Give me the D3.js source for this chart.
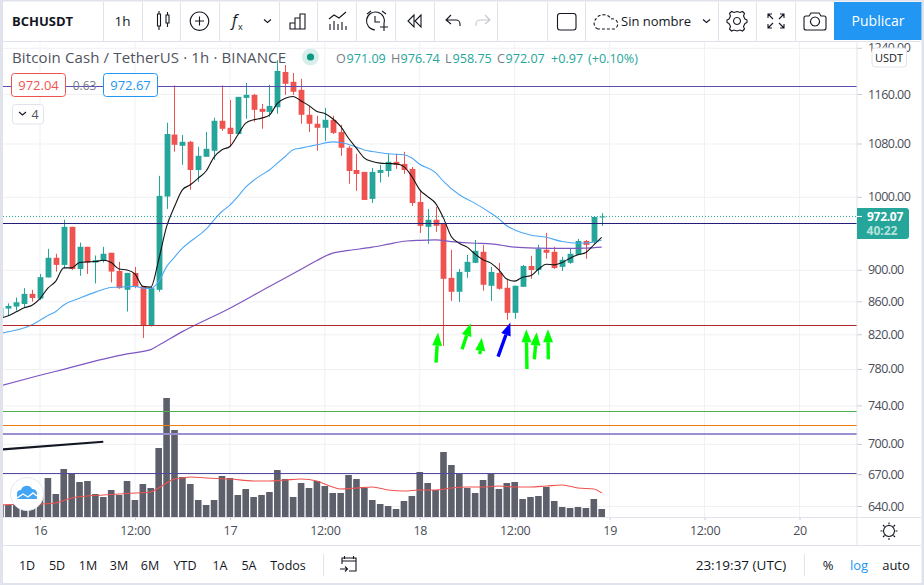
<!DOCTYPE html>
<html lang="es">
<head>
<meta charset="UTF-8">
<title>BCHUSDT 1h</title>
<script src="https://d3js.org/d3.v7.min.js"></script>
<style>
    html, body { margin: 0; padding: 0; background: #fff; overflow: hidden; }
    svg { display: block; font-family: "Open Sans", sans-serif; }
    .grid line { stroke: #f0f1f5; stroke-width: 1; }
    .axis path { display: none; }
    .axis line { stroke: #c9cbd3; }
    .axis text { font-family: "Open Sans", sans-serif; font-size: 12.5px; fill: #4a4d57; letter-spacing: -0.3px; }
    .ico { fill: none; stroke: #131722; stroke-width: 1.1; }
    .sep { stroke: #e0e3eb; stroke-width: 1; }
    .level { shape-rendering: crispEdges; }
    .range text { font-size: 12.5px; fill: #131722; text-anchor: middle; }
</style>
</head>
<body>
<svg id="chart" width="924" height="585"></svg>
<script>
// hours counted from 16th 00:00, one candle per hour
var hours = d3.range(-5, 72);

var open = [
    839.4,851,853.5,856.7,869.3,863.4,890.1,915.8,906.4,957.6,
    901.1,930.4,909.5,911.8,922.4,898.5,874.4,896,879.1,830.9,
    874.4,1000.4,1094,1076.4,1082.6,1039.5,1059.5,1068.7,1116,1104.8,
    1094.9,1153.5,1158.6,1135.4,1130.5,1138,1197.5,1180.6,1167,1125.7,
    1111.2,1104.8,1117.6,1098,1073.4,1039.5,1036.6,997,1035.1,1038,
    1051.8,1048.7,1041.1,992.6,957.6,967.4,961.8,889.6,871.9,897.3,
    909.1,923.7,879.5,896,877,845.8,878.2,905,899.8,926.4,
    923.7,903.8,909.1,919.7,938.3,937,971.09];
var high = [
    852,857.5,864.7,876.5,874.4,894.7,927.7,921.1,967.4,957.6,
    936.1,930.4,918.8,930.4,922.4,910.4,896,903.8,879.1,878.2,
    1030.7,1112.8,1174.4,1093.3,1084.1,1074.9,1098,1120.9,1174.4,1150.1,
    1155.2,1178.9,1160.3,1143.4,1175.5,1218,1209.6,1195.8,1185.7,1140.2,
    1124.1,1137,1124.1,1109.6,1076.4,1064.1,1036.6,1042.6,1047.2,1064.1,
    1064.1,1067.2,1044.1,1010.2,982.7,985.5,961.8,926.4,901.1,919.7,
    939.7,933,903.8,909.1,888.4,879.5,906.4,918.4,933,949.2,
    930.4,917.1,927.7,941,939.7,971.5,976.74];
var low = [
    839.4,842.2,848.6,852.7,859.6,861.7,890.1,897.7,902,899.8,
    892.2,894.7,882.5,909.5,883.7,875.7,847.4,876.5,815.6,829.3,
    871.9,982.7,1067.2,1047.2,1010.2,1021.9,1059.5,1054.9,1099.9,1074.9,
    1094.9,1119.3,1114.4,1103.2,1122.5,1127.3,1158.6,1158.6,1111.2,1098,
    1068.7,1084.1,1094.9,1061,1019,1008.7,995.5,991.1,1020.9,1029.2,
    1041.1,1033.6,986.9,949.2,934.4,950.6,806.4,860.5,859.2,889.6,
    908.7,873.2,860.5,874.4,837.4,838.6,878.2,888.4,893.5,914.4,
    901.1,898.5,907.8,919.7,914.4,934.4,958.75];
var close = [
    851.9,854.3,858.8,869.3,864.2,890.5,915.8,906.4,957.6,901.1,
    930.4,909.5,912.6,921.1,897.7,876.5,896,878.2,830.9,876.5,
    1001.4,1094.9,1078,1082.6,1039.5,1061,1071.8,1116,1103.2,1094.9,
    1155.2,1158.6,1133.8,1130.5,1140.2,1199.2,1177.2,1163.7,1125.7,1111.2,
    1104.8,1117.6,1096.7,1073.4,1038,1033.6,995.5,1036.6,1039.5,1051.8,
    1047.2,1039.5,991.1,959,967.4,959,888.4,871.9,897.3,910.4,
    925,880.8,897.3,875.7,845.8,879.5,905,899.8,927.7,922.4,
    902.4,913.1,921.1,938.3,933,971.5,972.07];
var volume = [
    12,12,12,10,12,21,39,23,48,44,
    35,36,23,20,27,22,36,17,33,29,
    69,119,87,40,33,17,12,17,41,39,
    22,28,20,22,25,47,38,20,34,29,
    36,31,24,24,42,38,29,17,13,11,
    8,16,21,45,34,27,65,52,43,29,
    24,37,43,28,34,35,18,20,21,30,
    16,10,9,10,9,18,8];

// fast moving average, same hours as the candles
var maFast = [
    839.4,842.2,847,851.9,855.1,863.4,876.5,885.4,902.5,902.5,
    909.5,910.4,910.8,912.6,909.5,901.1,899.8,894.7,878.7,877.8,
    913.1,958,986,1010.2,1017.5,1027.3,1038,1059,1070.3,1075.4,
    1093.3,1112.3,1117.6,1120.3,1125.2,1144.5,1153,1155.8,1148.4,1140.7,
    1131.1,1127.9,1119.3,1106.9,1088.2,1072.8,1057.5,1052.3,1049.8,1049.2,
    1048.7,1044.6,1029.7,1010.2,1000.4,990.6,969.7,944.1,935.2,929.9,
    920.6,913.1,908.7,899.8,888,885.4,890.5,892.2,900.7,907.3,
    906.4,909.5,915.3,919.7,922.8,933,943.2];

var maMidHours = [-5,-1,1,2,3,5,7,9,11,12,13,14,15,16,17,18,19,20,21,22,23,24,25,26,27,28,29,30,31,32,33,34,35,37,38,40,41,42,44,46,47,48,50,51,53,55,57,58,59,60,62,64,66,68,70,71];
var maMid = [821.2,831.3,842.6,847.4,855.5,863.8,871.5,877.4,878.2,878.7,876.5,876.1,885,904.2,916.6,928.6,937.5,945.5,954.3,967.4,979,988.2,1000.4,1014.1,1023.9,1032.2,1039.5,1049.8,1060,1070.3,1072.8,1075.4,1078,1082.6,1081.6,1074.4,1069.8,1067.7,1064.1,1062.6,1057.5,1048.2,1035.6,1022.4,1002.9,990.6,976.6,968.7,959,953.4,946.4,943.2,937.5,935.2,936.6,939.7];

var maSlowHours = [-5,0,3,8,11,14,15,18,24,29,33,35,37,39,42,44,46,48,50,52,55,57,60,63,66,69,71];
var maSlow = [761.2,772.9,779.6,791.1,797.2,802,807.1,823.2,851.5,878.7,900.7,912.2,922,925.5,929.9,933.9,937.9,939.2,939.7,937.5,935.2,934.4,929.9,928.6,928.2,928.6,929.9];

var volMaHours = [-5,-1,0,2,4,6,8,10,12,14,15,16,17,18,19,21,24,27,29,31,33,35,37,38,40,42,44,46,48,50,52,54,56,58,60,62,64,66,68,70,71];
var volMa = [12,13,13,14,19,21,22,23,24,25,29,34,38,39,40,39,38,36,36,37,38,36,30,28,29,30,27,26,27,27,29,30,30,31,30,30,31,32,29,28,24];

// levels drawn by hand on the chart
var levelPrices = [1173.4, 962.1, 830.3, 734, 719, 710, 671];
var levelColors = ["#5a4cb0", "#231c78", "#b3282d", "#4caf50", "#ef7c13", "#9a8fd0", "#54479f"];
var levelWidths = [1, 1, 1, 1, 1, 2, 1];
var lastPrice = 972.07;

// arrows: hour and price of tail and head
var arrowTailHours = [50.06, 53.35, 55.6, 57.9, 61.55, 62.48, 64.25];
var arrowTailPrices = [787.2, 802.6, 796.8, 794, 780, 791, 791];
var arrowHeadHours = [50.3, 54.44, 55.83, 59.45, 61.47, 62.78, 64.2];
var arrowHeadPrices = [822, 833.3, 816, 834.1, 826, 822.4, 826];
var arrowColors = ["#00ff00", "#00ff00", "#00ff00", "#0000ff", "#00ff00", "#00ff00", "#00ff00"];

var trendHours = [-5, 8];
var trendPrices = [694.4, 702.2];

var priceTicks = [1240, 1160, 1080, 1000, 900, 860, 820, 780, 740, 700, 670, 640];
var timeTicks = [0, 12, 24, 36, 48, 60, 72, 84, 96];
var timeLabels = ["16", "12:00", "17", "12:00", "18", "12:00", "19", "12:00", "20"];
var rangeLabels = ["1D", "5D", "1M", "3M", "6M", "YTD", "1A", "5A", "Todos"];

var left = 3, right = 857, top_ = 42, bottom = 517;
var green = "#26a69a", red = "#ef5350";

var svg = d3.select("#chart");

var x = d3.scaleLinear().domain([0, 96]).range([40, 799.5]);
var y = d3.scaleLog().domain([640, 1160]).range([506, 94]);
var yVol = d3.scaleLinear().domain([0, 120]).range([517, 397]);

svg.append("rect").attr("width", 924).attr("height", 585).attr("fill", "#fff");

svg.append("defs").append("clipPath").attr("id", "plot")
    .append("rect").attr("x", left).attr("y", top_).attr("width", right - left).attr("height", bottom - top_);

// grid
var grid = svg.append("g").attr("class", "grid").attr("clip-path", "url(#plot)");
grid.selectAll(".h").data(priceTicks).enter().append("line").attr("class", "h")
    .attr("x1", left).attr("x2", right).attr("y1", function(d) { return y(d) + 0.5; }).attr("y2", function(d) { return y(d) + 0.5; });
grid.selectAll(".v").data(timeTicks).enter().append("line").attr("class", "v")
    .attr("y1", top_).attr("y2", bottom).attr("x1", function(d) { return x(d); }).attr("x2", function(d) { return x(d); });

var plot = svg.append("g").attr("clip-path", "url(#plot)");

// volume
plot.selectAll(".vol").data(hours).enter().append("rect").attr("class", "vol")
    .attr("x", function(d) { return x(d) - 3.3; })
    .attr("width", 6.6)
    .attr("y", function(d, i) { return yVol(volume[i]); })
    .attr("height", function(d, i) { return yVol(0) - yVol(volume[i]); })
    .attr("fill", "#5d606b");

var volLine = d3.line()
    .x(function(d) { return x(d); })
    .y(function(d, i) { return yVol(volMa[i]); })
    .curve(d3.curveMonotoneX);
plot.append("path").attr("d", volLine(volMaHours)).attr("fill", "none").attr("stroke", "#ef5350").attr("stroke-width", 1.1);

// candles
plot.selectAll(".wick").data(hours).enter().append("line").attr("class", "wick")
    .attr("x1", function(d) { return Math.round(x(d)) + 0.5; })
    .attr("x2", function(d) { return Math.round(x(d)) + 0.5; })
    .attr("y1", function(d, i) { return y(high[i]); })
    .attr("y2", function(d, i) { return y(low[i]); })
    .attr("stroke", function(d, i) { return close[i] >= open[i] ? green : red; });
plot.selectAll(".body").data(hours).enter().append("rect").attr("class", "body")
    .attr("x", function(d) { return Math.round(x(d)) + 0.5 - 2.9; })
    .attr("width", 5.8)
    .attr("y", function(d, i) { return y(Math.max(open[i], close[i])); })
    .attr("height", function(d, i) { return Math.max(1, Math.abs(y(open[i]) - y(close[i]))); })
    .attr("fill", function(d, i) { return close[i] >= open[i] ? green : red; });

// moving averages
function maPath(xs, ys) {
    return d3.line()
        .x(function(d) { return x(d); })
        .y(function(d, i) { return y(ys[i]); })
        .curve(d3.curveMonotoneX)(xs);
}
plot.append("path").attr("d", maPath(maSlowHours, maSlow)).attr("fill", "none").attr("stroke", "#7e57c2").attr("stroke-width", 1.2);
plot.append("path").attr("d", maPath(maMidHours, maMid)).attr("fill", "none").attr("stroke", "#4fa8f5").attr("stroke-width", 1.1);
plot.append("path").attr("d", maPath(hours, maFast)).attr("fill", "none").attr("stroke", "#131313").attr("stroke-width", 1.1);

// horizontal levels
plot.selectAll(".level").data(levelPrices).enter().append("line").attr("class", "level")
    .attr("x1", left).attr("x2", right)
    .attr("y1", function(d) { return y(d); }).attr("y2", function(d) { return y(d); })
    .attr("stroke", function(d, i) { return levelColors[i]; })
    .attr("stroke-width", function(d, i) { return levelWidths[i]; });
plot.append("line").attr("x1", left).attr("x2", right).attr("y1", y(lastPrice)).attr("y2", y(lastPrice))
    .attr("stroke", green).attr("stroke-dasharray", "1 2");

plot.append("line")
    .attr("x1", x(trendHours[0])).attr("y1", y(trendPrices[0]))
    .attr("x2", x(trendHours[1])).attr("y2", y(trendPrices[1]))
    .attr("stroke", "#131722").attr("stroke-width", 2.2);

// arrows, head polygon worked out along the scaled direction
arrowTailHours.forEach(function(h, i) {
    var x0 = x(h), y0 = y(arrowTailPrices[i]), x1 = x(arrowHeadHours[i]), y1 = y(arrowHeadPrices[i]);
    var len = Math.hypot(x1 - x0, y1 - y0), ux = (x1 - x0) / len, uy = (y1 - y0) / len;
    var bx = x1 - ux * 13, by = y1 - uy * 13;
    plot.append("line").attr("x1", x0).attr("y1", y0).attr("x2", bx).attr("y2", by)
        .attr("stroke", arrowColors[i]).attr("stroke-width", 3.4);
    plot.append("path")
        .attr("d", "M" + x1 + "," + y1 + "L" + (bx - uy * 5) + "," + (by + ux * 5) + "L" + (bx + uy * 5) + "," + (by - ux * 5) + "Z")
        .attr("fill", arrowColors[i]);
});

// price axis
svg.append("g").attr("class", "axis").attr("transform", "translate(" + right + ",0)")
    .call(d3.axisRight(y).tickValues(priceTicks).tickSize(5).tickPadding(6).tickFormat(d3.format(".2f")))
    .selectAll("text").style("letter-spacing", "-0.55px");

// time axis
svg.append("g").attr("class", "axis").attr("transform", "translate(0," + bottom + ")")
    .call(d3.axisBottom(x).tickValues(timeTicks).tickSize(3).tickPadding(6)
        .tickFormat(function(d, i) { return timeLabels[i]; }));

// frame
var frameColor = "#e0e3eb";
svg.append("rect").attr("x", 0).attr("y", 0).attr("width", 3).attr("height", 585).attr("fill", frameColor);
svg.append("rect").attr("x", 0).attr("y", 0).attr("width", 924).attr("height", 1.5).attr("fill", frameColor);
svg.append("rect").attr("x", 921.5).attr("y", 0).attr("width", 2.5).attr("height", 585).attr("fill", frameColor);
svg.append("rect").attr("x", 0).attr("y", 583).attr("width", 924).attr("height", 2).attr("fill", frameColor);
[[3, 41, 921, 41], [3, 517, 921, 517], [3, 545, 921, 545], [857, 42, 857, 545]].forEach(function(s) {
    svg.append("line").attr("class", "sep").attr("x1", s[0]).attr("y1", s[1] + 0.5).attr("x2", s[2]).attr("y2", s[3] + 0.5);
});

// top toolbar
[103, 142, 180, 219, 279, 317, 356, 395, 434, 497, 547, 585, 718, 756, 795].forEach(function(v) {
    svg.append("line").attr("class", "sep").attr("x1", v + 0.5).attr("x2", v + 0.5).attr("y1", 2).attr("y2", 41);
});
function label(t, px, py, size, color, weight, anchor) {
    return svg.append("text").attr("x", px).attr("y", py).attr("font-size", size).attr("fill", color)
        .attr("font-weight", weight || 400).attr("text-anchor", anchor || "start").text(t);
}
function icon(d, extra) {
    var p = svg.append("path").attr("class", "ico").attr("d", d);
    if (extra) p.attr("stroke", extra).style("stroke", extra);
    return p;
}
label("BCHUSDT", 12, 26, 13, "#131722", 700);
label("1h", 122.5, 26, 13.5, "#131722", 400, "middle");
// candles icon
icon("M157.5,14h3v12h-3zM159,11v3M159,26v4M166,15h3v8h-3zM167.5,12v3M167.5,23v4");
// plus in circle
icon("M199.5,12a9.2,9.2 0 1,0 0.01,0M199.5,16.5v9M195,21h9");
// fx
label("f", 232, 26, 16, "#131722").attr("font-style", "italic");
label("x", 238, 30, 9, "#131722");
icon("M264,19.5l3.5,3l3.5,-3");
// bars
icon("M290,29v-6h5v6zM295,29v-11h5v11zM300,29v-15h5v15z");
// indicators
icon("M329,19l5,-4l5,3l7,-6M330,30v-6M334,30v-9M338,30v-6M342,30v-8M346,30v-4");
// alarm
icon("M384,24a9,9 0 1,0 -9,6M375,16v6h5M367,14l4,-3M382,11l4,3M380,27h8M384,23v8");
// rewind
icon("M414,15l-6,6l6,6zM421,15l-6,6l6,6z");
// undo and redo
icon("M451,15l-5,5l5,4M446,20h10a4,4 0 0,1 4,4v2");
icon("M485,15l5,5l-5,4M490,20h-10a4,4 0 0,0 -4,4v2", "#c5c7cf");
// square
svg.append("rect").attr("class", "ico").attr("x", 557.5).attr("y", 13.5).attr("width", 18.5).attr("height", 16.5).attr("rx", 2.5);
// cloud
icon("M598,29a6,6 0 0,1 -2,-10a7,7 0 0,1 6,-4a8,8 0 0,1 9,4a5,5 0 0,1 3,10z").attr("stroke-dasharray", "3 2");
label("Sin nombre", 621, 26, 13, "#131722");
icon("M703,19.5l3.5,3l3.5,-3");
// gear
icon("M737,12.5l3,1l2.5,-1l2,2l-1,2.5l1.5,3l2,1v2.5l-2,1l-1.5,3l1,2.5l-2,2l-2.5,-1l-3,1l-3,-1l-2.5,1l-2,-2l1,-2.5l-1.5,-3l-2,-1v-2.5l2,-1l1.5,-3l-1,-2.5l2,-2l2.5,1zM737,18.5a3.5,3.5 0 1,0 0.01,0").attr("transform", "translate(0,-1)");
// fullscreen
icon("M768,14l5,5M768,18v-4h4M784,14l-5,5M784,18v-4h-4M768,28l5,-5M768,24v4h4M784,28l-5,-5M784,24v4h-4");
// camera
icon("M806,16h3l2,-3h8l2,3h3a2,2 0 0,1 2,2v10a2,2 0 0,1 -2,2h-18a2,2 0 0,1 -2,-2v-10a2,2 0 0,1 2,-2zM815,17a4.5,4.5 0 1,0 0.01,0");
svg.append("rect").attr("x", 834).attr("y", 2).attr("width", 87.5).attr("height", 38).attr("fill", "#2196f3");
label("Publicar", 878, 26, 14, "#fff", 400, "middle");

// legend
label("Bitcoin Cash / TetherUS \u00b7 1h \u00b7 BINANCE", 12, 63, 15, "#50535e").attr("textLength", 274);
svg.append("circle").attr("cx", 310.5).attr("cy", 57).attr("r", 8.5).attr("fill", "#d7eeeb");
svg.append("circle").attr("cx", 310.5).attr("cy", 57).attr("r", 3.6).attr("fill", "#089981");
[["O", 336, "971.09", 346.5], ["H", 391, "976.74", 400.5], ["L", 445, "958.75", 452.5], ["C", 497, "972.07", 505.5]].forEach(function(o) {
    label(o[0], o[1], 63, 12.6, "#787b86");
    label(o[2], o[3], 63, 12.6, green);
});
label("+0.97", 551, 63, 12.6, green);
label("(+0.10%)", 588, 63, 12.6, green);

// bid and ask boxes
svg.append("rect").attr("x", 11.5).attr("y", 73.5).attr("width", 54).attr("height", 23).attr("rx", 3).attr("fill", "#fff").attr("stroke", red);
label("972.04", 38.5, 90, 13, red, 400, "middle");
label("0.63", 84.5, 90, 12, "#787b86", 400, "middle");
svg.append("rect").attr("x", 103.5).attr("y", 73.5).attr("width", 54).attr("height", 23).attr("rx", 3).attr("fill", "#fff").attr("stroke", "#2196f3");
label("972.67", 130.5, 90, 13, "#2196f3", 400, "middle");
svg.append("rect").attr("x", 12.5).attr("y", 104.5).attr("width", 31).attr("height", 19.5).attr("rx", 3).attr("fill", "#fff").attr("stroke", "#e0e3eb");
icon("M19,112l3.5,3l3.5,-3");
label("4", 35, 119, 12.5, "#50535e", 400, "middle");

// currency box and last price tag
svg.append("rect").attr("x", 872).attr("y", 48).attr("width", 34.5).attr("height", 19).attr("rx", 3).attr("fill", "#fff").attr("stroke", "#e0e3eb");
label("USDT", 889, 62, 11, "#131722", 400, "middle");
svg.append("path").attr("d", "M857,208h49a3,3 0 0,1 3,3v25a3,3 0 0,1 -3,3h-49z").attr("fill", green);
svg.append("line").attr("x1", 857).attr("x2", 862).attr("y1", y(lastPrice)).attr("y2", y(lastPrice)).attr("stroke", "#fff");
label("972.07", 885, 220.5, 12, "#fff", 700, "middle").style("letter-spacing", "-0.3px");
label("40:22", 882, 235, 12, "#b5e2dc", 700, "middle");

// logo
svg.append("circle").attr("cx", 27).attr("cy", 494).attr("r", 16.5).attr("fill", "#fff").attr("stroke", "#e6e8ee");
svg.append("path").attr("d", "M17,499v-5a4,4 0 0,1 4,-4a6,6 0 0,1 11,-1a5,5 0 0,1 5,4v6z").attr("fill", "#42a5f5");
svg.append("path").attr("d", "M17,498l6,-4l5,3l5,-4l4,3").attr("fill", "none").attr("stroke", "#fff").attr("stroke-width", 1.4);

// sun icon under price axis
icon("M889,525.5a5.5,5.5 0 1,0 0.01,0M889,522.5v2M889,538v2M880.5,531h2M895.5,531h2M883,525l1.5,1.5M893.5,535.5l1.5,1.5M895,525l-1.5,1.5M884.5,535.5l-1.5,1.5");

// bottom bar
var rangeX = [27, 57, 88, 119, 150, 185, 220, 249, 288];
svg.append("g").attr("class", "range").selectAll("text").data(rangeLabels).enter().append("text")
    .attr("x", function(d, i) { return rangeX[i]; }).attr("y", 570).text(function(d) { return d; });
svg.append("line").attr("class", "sep").attr("x1", 323.5).attr("x2", 323.5).attr("y1", 554).attr("y2", 576);
svg.append("line").attr("class", "sep").attr("x1", 804.5).attr("x2", 804.5).attr("y1", 554).attr("y2", 576);
icon("M342,564v-6h14v13h-7M344.5,556v3M353.5,556v3M342,561h14M340,569h7M345,566.5l2.5,2.5l-2.5,2.5");
label("23:19:37 (UTC)", 741, 570, 13.5, "#131722", 400, "middle");
label("%", 828, 570, 13, "#131722", 400, "middle");
label("log", 859, 570, 13, "#2196f3", 400, "middle");
label("auto", 896, 570, 13, "#131722", 400, "middle");
</script>
</body>
</html>
